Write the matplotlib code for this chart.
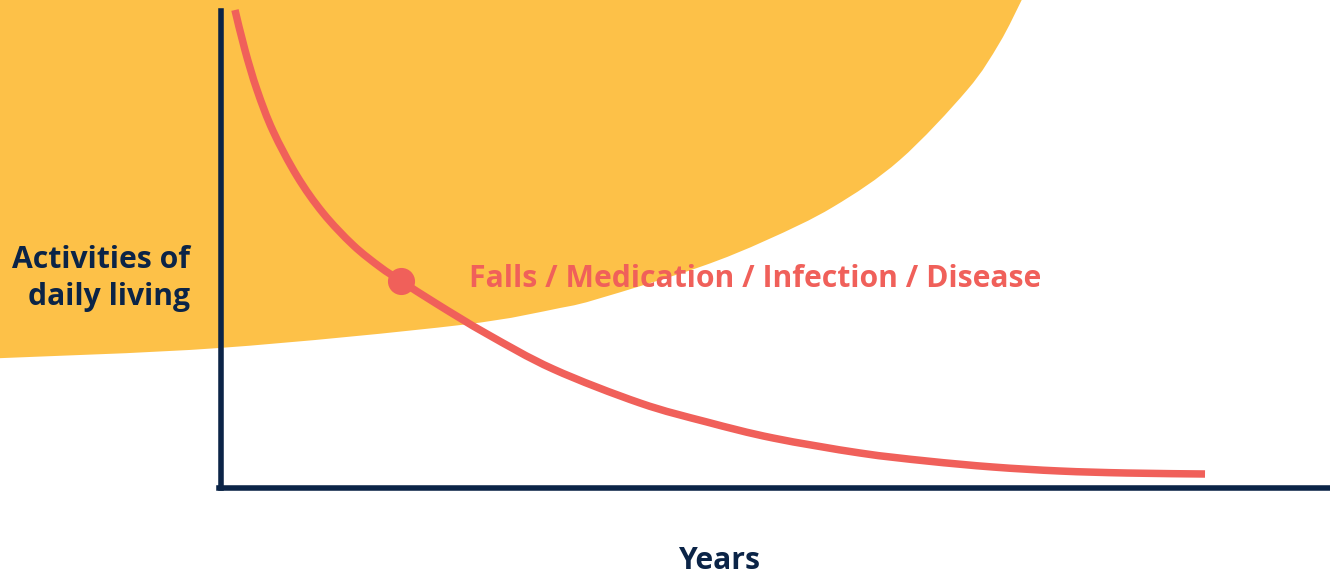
import matplotlib
matplotlib.use("Agg")
import matplotlib.pyplot as plt
from matplotlib.path import Path
from matplotlib.patches import PathPatch

# ---- data (x: years, y: activities of daily living, arbitrary units) ----
decline_years = [0.126, 0.216, 0.325, 0.469, 0.685, 0.920, 1.190, 1.434, 1.623,
                 1.948, 2.399, 2.994, 3.778, 4.382, 4.977, 5.762, 6.366, 6.961,
                 7.565, 8.170, 8.873]
decline_adl = [97.95, 89.75, 81.56, 73.16, 63.93, 56.35, 49.80, 45.29, 42.42,
               37.70, 31.56, 24.39, 17.42, 13.52, 10.25, 7.17, 5.53, 4.30,
               3.48, 3.07, 2.87]
event_year = [1.623]
event_adl = [42.42]

zone_years = [-2.0, -0.01, 2.16, 3.06, 3.42, 4.32, 4.92, 5.52, 6.12, 6.73, 7.02, 7.22]
zone_adl = [26.6, 28.7, 33.4, 36.9, 38.9, 45.3, 50.8, 57.6, 67.2, 81.6, 91.2, 100.0]

event_label = "Falls / Medication / Infection / Disease"
y_label = "Activities of\ndaily living"
x_label = "Years"

YELLOW = "#FDC148"
RED = "#F0605A"
NAVY = "#0B2447"


def smooth_path_vertices(xs, ys):
    """Cubic Bezier (Catmull-Rom) path through the given points."""
    pts = list(zip(xs, ys))
    verts = [pts[0]]
    codes = [Path.MOVETO]
    n = len(pts)
    for i in range(n - 1):
        p0 = pts[i - 1] if i > 0 else pts[i]
        p1 = pts[i]
        p2 = pts[i + 1]
        p3 = pts[i + 2] if i + 2 < n else pts[i + 1]
        c1 = (p1[0] + (p2[0] - p0[0]) / 6, p1[1] + (p2[1] - p0[1]) / 6)
        c2 = (p2[0] - (p3[0] - p1[0]) / 6, p2[1] - (p3[1] - p1[1]) / 6)
        verts += [c1, c2, p2]
        codes += [Path.CURVE4] * 3
    return verts, codes


plt.rcParams['font.family'] = ['Open Sans', 'DejaVu Sans']

fig = plt.figure(figsize=(13.3, 5.78), dpi=100)
ax = fig.add_axes([0, 0, 1, 1])
ax.set_xlim(-221 / 110.9, 10.0)
ax.set_ylim(-90 / 4.88, 100)

# yellow zone: boundary curve, closed along the top-left corner
zv, zc = smooth_path_vertices(zone_years, zone_adl)
zv += [(-2.0, 100.0), zv[0]]
zc += [Path.LINETO, Path.CLOSEPOLY]
ax.add_patch(PathPatch(Path(zv, zc), facecolor=YELLOW, edgecolor='none', zorder=1))

# red decline curve
dv, dc = smooth_path_vertices(decline_years, decline_adl)
ax.add_patch(PathPatch(Path(dv, dc), facecolor='none', edgecolor=RED, lw=5.4,
                       capstyle='butt', joinstyle='round', zorder=3))
ax.plot(event_year, event_adl, 'o', color=RED, ms=18.5, zorder=4)

ax.text(2.24, 42.8, event_label, color=RED, fontsize=21.7, fontweight='bold',
        ha='left', va='center', zorder=5)

ax.text(-0.28, 42.9, y_label, color=NAVY, fontsize=21.7, fontweight='bold',
        ha='right', va='center', linespacing=1.33, zorder=5)
ax.text(4.49, -14.9, x_label, color=NAVY, fontsize=21.7, fontweight='bold',
        ha='center', va='center', zorder=5)

for s in ['top', 'right']:
    ax.spines[s].set_visible(False)
ax.spines['left'].set_position(('data', 0))
ax.spines['bottom'].set_position(('data', 0))
ax.spines['left'].set_bounds(0, 97.8)
ax.spines['bottom'].set_bounds(-0.02, 10.0)
for s in ['left', 'bottom']:
    ax.spines[s].set_color(NAVY)
    ax.spines[s].set_linewidth(4.0)
    ax.spines[s].set_zorder(2)
    ax.spines[s].set_capstyle('projecting')
ax.set_xticks([])
ax.set_yticks([])
ax.patch.set_alpha(0)

fig.savefig("out.png", dpi=100, facecolor='white')
